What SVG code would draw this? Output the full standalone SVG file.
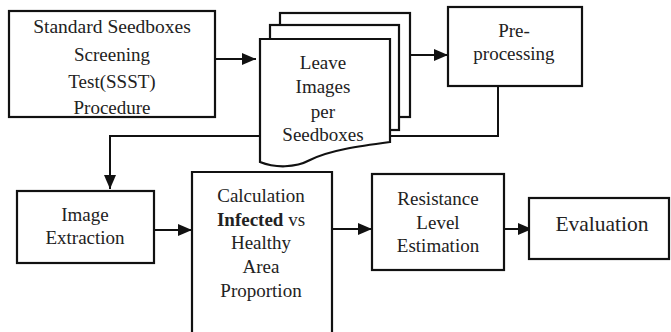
<svg xmlns="http://www.w3.org/2000/svg" width="671" height="332" viewBox="0 0 671 332">
<style>
.box{fill:#fff;stroke:#111;stroke-width:2.2}
.ln{fill:none;stroke:#111;stroke-width:2}
.t{font-family:'Liberation Serif','Times New Roman',Tinos,'DejaVu Serif',serif;font-size:19px;fill:#222;text-anchor:middle}
</style>
<defs>
<marker id="ah" markerWidth="14" markerHeight="14" refX="14" refY="7" orient="auto" markerUnits="userSpaceOnUse" viewBox="0 0 14 14">
<path d="M0,1 L14,7 L0,13 Z" fill="#111"/>
</marker>
</defs>
<rect width="671" height="332" fill="#fff"/>
<g id="connectors">
<line class="ln" x1="215" y1="59" x2="256" y2="59" marker-end="url(#ah)"/>
<line class="ln" x1="410" y1="55" x2="448" y2="55" marker-end="url(#ah)"/>
<polyline class="ln" points="498,86 498,136 110,136 110,189" marker-end="url(#ah)"/>
<line class="ln" x1="154" y1="230" x2="192" y2="230" marker-end="url(#ah)"/>
<line class="ln" x1="332" y1="229" x2="372" y2="229" marker-end="url(#ah)"/>
<line class="ln" x1="504" y1="229" x2="532" y2="229" marker-end="url(#ah)"/>
</g>
<g id="n1">
<rect class="box" x="9" y="11" width="206" height="106"/>
<text class="t" x="112" y="33" style="font-size:19.5px">Standard Seedboxes</text>
<text class="t" x="112" y="61">Screening</text>
<text class="t" x="112" y="88">Test(SSST)</text>
<text class="t" x="112" y="114">Procedure</text>
</g>
<g id="n2">
<rect class="box" x="280" y="13" width="130" height="104"/>
<rect class="box" x="270" y="25" width="129" height="105"/>
<path class="box" d="M260,39 L390,39 L390,142 C360,146 330,150 310,160 C295,168 275,168 260,162 Z"/>
<text class="t" x="323" y="69">Leave</text>
<text class="t" x="323" y="93">Images</text>
<text class="t" x="323" y="118">per</text>
<text class="t" x="323" y="141">Seedboxes</text>
</g>
<g id="n3">
<rect class="box" x="448" y="7" width="134" height="79"/>
<text class="t" x="514" y="37">Pre-</text>
<text class="t" x="514" y="60">processing</text>
</g>
<g id="n4">
<rect class="box" x="17" y="191" width="137" height="72"/>
<text class="t" x="85" y="221">Image</text>
<text class="t" x="85" y="244">Extraction</text>
</g>
<g id="n5">
<path class="box" d="M192,334 L192,172 L332,172 L332,334"/>
<text class="t" x="261" y="202">Calculation</text>
<text class="t" x="261" y="226"><tspan font-weight="bold">Infected</tspan> vs</text>
<text class="t" x="261" y="249">Healthy</text>
<text class="t" x="261" y="273">Area</text>
<text class="t" x="261" y="297">Proportion</text>
</g>
<g id="n6">
<rect class="box" x="372" y="174" width="132" height="96"/>
<text class="t" x="438" y="205">Resistance</text>
<text class="t" x="438" y="229">Level</text>
<text class="t" x="438" y="252">Estimation</text>
</g>
<g id="n7">
<rect class="box" x="529" y="198" width="140" height="61"/>
<text class="t" x="602" y="231" style="font-size:21.5px">Evaluation</text>
</g>
</svg>
